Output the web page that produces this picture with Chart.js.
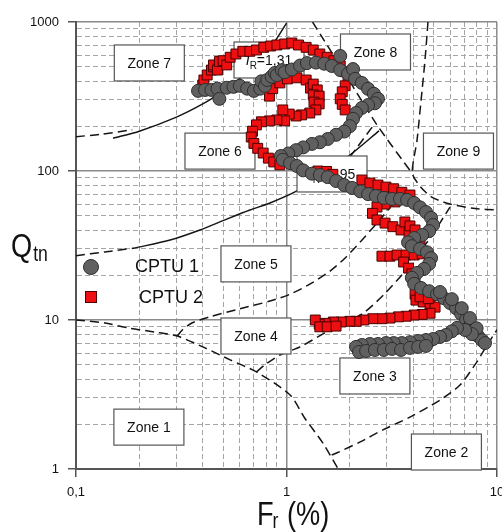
<!DOCTYPE html>
<html>
<head>
<meta charset="utf-8">
<title>CPTU SBT chart</title>
<script src="https://cdn.jsdelivr.net/npm/chart.js@4.4.1/dist/chart.umd.min.js"></script>
<style>
  html, body { margin: 0; padding: 0; background: #fff; }
  #wrap { position: relative; width: 502px; height: 532px; }
</style>
</head>
<body>
<div id="wrap"><canvas id="sbtChart"></canvas></div>
<script>
// CPTU 1 readings: [Fr (%), Qtn]
const cptu1 = [
    [0.38, 345], [0.41, 350], [0.44, 350], [0.47, 357], [0.48, 305], [0.52, 362], [0.56, 367],
    [0.60, 373], [0.65, 357], [0.70, 345], [0.75, 357], [0.76, 400], [0.79, 373], [0.81, 408],
    [0.85, 430], [0.88, 455], [0.90, 440], [0.95, 475], [0.98, 460], [1.06, 480], [1.16, 510],
    [1.25, 530], [1.38, 534], [1.51, 525], [1.64, 507], [1.80, 476], [1.80, 592], [1.96, 448],
    [2.07, 483], [2.12, 415], [2.28, 390], [2.44, 356], [2.60, 330], [2.72, 305],
    [2.63, 285], [2.44, 277], [2.28, 265], [2.14, 245], [2.07, 224], [2.00, 200], [1.88, 184],
    [1.72, 175], [1.57, 164], [1.44, 156], [1.32, 152], [1.20, 144], [1.11, 138], [1.02, 131],
    [0.94, 126], [0.96, 119], [1.04, 113], [1.12, 108], [1.20, 101], [1.32, 96], [1.44, 94],
    [1.57, 91], [1.72, 85.7], [1.88, 80.5], [2.05, 77], [2.24, 73], [2.44, 70], [2.66, 68],
    [2.90, 66], [3.17, 65], [3.46, 65], [3.74, 64], [4.04, 61], [4.31, 57], [4.60, 53],
    [4.86, 48.5], [4.97, 43.4], [4.76, 39.5], [4.41, 37.2], [4.04, 35.5], [3.78, 33.2],
    [3.94, 31.3], [4.31, 30], [4.65, 28.5], [4.86, 26], [4.76, 23.8], [4.50, 22], [4.17, 20.7],
    [3.94, 19.2], [4.04, 17.5], [4.36, 16.4], [4.76, 15.6], [5.19, 14.9], [5.60, 14.0],
    [5.98, 13.0], [6.39, 12.0], [6.75, 11.0], [7.13, 10.0], [7.44, 9.1], [7.77, 8.4],
    [8.13, 7.8], [8.49, 7.3], [8.77, 7.0], [5.36, 15.4], [6.1, 13.8], [6.8, 12.0],
    [7.44, 10.3], [8.0, 8.8],
    [7.6, 8.05], [7.05, 8.57], [6.46, 8.85], [6.1, 8.4], [5.72, 7.93], [5.36, 7.7], [4.97, 7.45],
    [4.60, 7.34], [4.22, 7.23], [3.86, 7.1], [3.53, 7.0], [3.23, 7.0], [2.97, 7.0], [2.72, 6.9],
    [2.49, 6.9], [2.28, 6.8], [2.14, 6.6], [2.21, 6.1], [2.39, 6.2], [2.63, 6.3], [2.90, 6.3],
    [3.17, 6.4], [3.50, 6.3], [3.86, 6.5], [4.22, 6.6], [4.60, 6.7]
];

// CPTU 2 readings: [Fr (%), Qtn]
const cptu2 = [
    [0.40, 378], [0.405, 408], [0.42, 441], [0.44, 476], [0.45, 500], [0.45, 515], [0.47, 476],
    [0.48, 543], [0.50, 550], [0.52, 515], [0.54, 580], [0.575, 610], [0.62, 636], [0.67, 636],
    [0.72, 649], [0.78, 676], [0.84, 690], [0.90, 701], [0.98, 712], [1.06, 723], [1.14, 701],
    [1.24, 676], [1.34, 649], [1.44, 610], [1.56, 580], [1.68, 550], [1.80, 507], [1.90, 464],
    [1.96, 415], [1.90, 373], [1.84, 340], [1.80, 305], [1.84, 280], [1.90, 257],
    [0.83, 318], [0.86, 357], [0.93, 390], [1.01, 415], [1.12, 422], [1.24, 408], [1.30, 360],
    [1.34, 383], [1.40, 350], [1.34, 324], [1.43, 318], [1.35, 290], [1.43, 282], [1.38, 257],
    [1.29, 245], [1.18, 238], [1.11, 234], [1.03, 241], [0.96, 257],
    [0.98, 217], [0.90, 220], [0.83, 217], [0.76, 214], [0.72, 204], [0.69, 185], [0.68, 169],
    [0.70, 153], [0.73, 142], [0.775, 132], [0.82, 122], [0.87, 115], [0.93, 110],
    [1.41, 100], [1.55, 99.4], [1.66, 95],
    [2.28, 87], [2.49, 83], [2.72, 80.5], [2.97, 78], [3.23, 76], [3.53, 72], [3.86, 69],
    [3.28, 62], [2.94, 60],
    [2.69, 57.3], [2.56, 52], [2.69, 46.9], [2.94, 44.7], [3.2, 42.3], [3.5, 40.2], [3.82, 38.2],
    [4.12, 36.6], [4.31, 34.4], [3.65, 45.5], [3.86, 42.8], [4.08, 40.2],
    [2.84, 26.8], [3.10, 26.8], [3.35, 27.3], [3.70, 27.3], [4.04, 27.3], [4.41, 27.8],
    [3.6, 24.5], [3.8, 22.3], [3.94, 20.4], [4.08, 18.5], [4.17, 16.7], [4.08, 14.9], [4.12, 13.6],
    [4.46, 13.2], [4.81, 12.8], [5.08, 12.2], [4.31, 14.3], [4.72, 13.9],
    [4.81, 11.1], [4.41, 10.9], [4.04, 10.8], [3.70, 10.6], [3.40, 10.5], [3.10, 10.3],
    [2.84, 10.2], [2.57, 10.2], [2.33, 10.0], [2.14, 9.8], [2.0, 9.8], [1.82, 9.7], [1.67, 9.7],
    [1.53, 9.5], [1.43, 9.4], [1.37, 10.0], [1.44, 9.0], [1.56, 9.0], [1.72, 9.1]
];

// zone boundaries: [Fr (%), Qtn]
const zone7LeftDash = [[0.1, 170], [0.13, 176], [0.185, 189]];
const ic131Curve = [[0.15, 166], [0.2, 185], [0.3, 230], [0.4, 282], [0.5, 344], [0.6, 418],
    [0.7, 509], [0.8, 624], [0.9, 776], [1.0, 984]];
const zone6LeftDash = [[0.1, 27], [0.137, 28.6], [0.19, 30.4]];
const zone6Curve = [[0.19, 30.4], [0.28, 34.4], [0.388, 40.2], [0.51, 47], [0.67, 54.7],
    [0.835, 61], [1.12, 73.5], [1.52, 98.5], [2.0, 128], [2.75, 186]];
const zone8Tick = [[2.0, 124], [2.6, 204]];
const zone8Diagonal = [[1.33, 1000], [1.90, 448], [2.69, 204], [3.94, 97]];
const zone9Boundary = [[4.70, 1000], [4.55, 556], [4.36, 300], [4.17, 161], [3.96, 97],
    [4.31, 79], [4.9, 66.7], [5.98, 60], [7.86, 56], [10, 54.7]];
const zone45Boundary = [[0.303, 7.8], [0.32, 8.57], [0.355, 9.55], [0.433, 10.5], [0.60, 11.9],
    [0.835, 13.4], [1.04, 14.9], [1.29, 17.4], [1.61, 21.3], [1.90, 26.1], [2.24, 33.4],
    [2.69, 44.7], [3.17, 59]];
const zone1Boundary = [[0.1, 10], [0.137, 9.55], [0.18, 8.8], [0.237, 8.3], [0.303, 7.8],
    [0.41, 6.5], [0.54, 5.4], [0.72, 4.48], [1.04, 3.14], [1.22, 2.2], [1.49, 1.49], [1.76, 1.0]];
const zone34Boundary = [[0.72, 4.48], [0.79, 5.0], [0.93, 5.82], [1.16, 6.6], [1.61, 8.57],
    [2.31, 11.1], [2.94, 15.1], [3.70, 21.7], [4.81, 35.5], [5.98, 57.3]];
const zone2Boundary = [[1.64, 1.24], [1.73, 1.28], [2.24, 1.52], [2.87, 1.83], [3.86, 2.23],
    [5.36, 2.9], [6.67, 3.66], [8.0, 5.2], [8.98, 6.8], [10, 8.6]];

// zone labels (centre of each box)
const zoneNames = ['Zone 1', 'Zone 2', 'Zone 3', 'Zone 4', 'Zone 5', 'Zone 6', 'Zone 7', 'Zone 8', 'Zone 9'];
const zoneFr = [0.222, 5.75, 2.63, 0.716, 0.716, 0.483, 0.223, 2.647, 6.56];
const zoneQtn = [1.91, 1.30, 4.21, 7.81, 23.8, 136, 531, 629, 136];
const irValues = ['1,31', '2,95'];
const irFr = [0.826, 1.645];
const irQtn = [556, 95.5];

// tick labels
const frTicks = [0.1, 1, 10];
const frTickLabels = ['0,1', '1', '10'];
const qtnTicks = [1, 10, 100, 1000];
const qtnTickLabels = ['1', '10', '100', '1000'];

const FONT = '"Liberation Sans", Arial, sans-serif';

function toXY(pairs) {
    return pairs.map(p => ({ x: p[0], y: p[1] }));
}

function isMajor(v) {
    const l = Math.log10(v);
    return Math.abs(l - Math.round(l)) < 1e-6;
}

// 1..9 in every decade, for the grid
function logGridValues(lo, hi) {
    const vals = [];
    for (let d = lo; d < hi * 0.999; d *= 10) {
        for (let m = 1; m < 10; m++) vals.push(+(d * m).toPrecision(6));
    }
    vals.push(hi);
    return vals;
}

function boundary(pairs, dashed) {
    return {
        label: '',
        data: toXY(pairs),
        showLine: true,
        borderColor: '#151515',
        borderWidth: 1.5,
        borderDash: dashed ? [9, 5] : [],
        pointRadius: 0,
        tension: 0.25,
        fill: false,
        order: 1
    };
}

function drawBox(ctx, cx, cy) {
    ctx.fillStyle = '#fff';
    ctx.strokeStyle = '#555';
    ctx.lineWidth = 1.2;
    ctx.fillRect(cx - 35, cy - 18, 70, 36);
    ctx.strokeRect(cx - 35, cy - 18, 70, 36);
}

function drawIrLabel(ctx, cx, cy, value) {
    const parts = [
        { t: 'I', f: 'italic 14px ' + FONT, dy: 0 },
        { t: 'R', f: '10px ' + FONT, dy: 4 },
        { t: '=' + value, f: '14px ' + FONT, dy: 0 }
    ];
    let w = 0;
    parts.forEach(p => { ctx.font = p.f; p.w = ctx.measureText(p.t).width; w += p.w; });
    let x = cx - w / 2;
    ctx.fillStyle = '#111';
    ctx.textAlign = 'left';
    ctx.textBaseline = 'alphabetic';
    parts.forEach(p => { ctx.font = p.f; ctx.fillText(p.t, x, cy + 5 + p.dy); x += p.w; });
}

// narrow-looking title text: squeeze horizontally
function narrowText(ctx, text, x, y, size) {
    ctx.save();
    ctx.translate(x, y);
    ctx.scale(0.8, 1);
    ctx.font = size + 'px ' + FONT;
    ctx.fillText(text, 0, 0);
    const w = ctx.measureText(text).width * 0.8;
    ctx.restore();
    return w;
}

// zone boxes sit above the boundary lines but below the points
const sbtDecor = {
    id: 'sbtDecor',
    afterDatasetDraw(chart, args) {
        if (args.index !== 2) return;
        const ctx = chart.ctx;
        const xs = chart.scales.x, ys = chart.scales.y;
        ctx.save();
        irValues.forEach((v, i) => {
            const cx = xs.getPixelForValue(irFr[i]), cy = ys.getPixelForValue(irQtn[i]);
            drawBox(ctx, cx, cy);
            drawIrLabel(ctx, cx, cy, v);
        });
        zoneNames.forEach((name, i) => {
            const cx = xs.getPixelForValue(zoneFr[i]), cy = ys.getPixelForValue(zoneQtn[i]);
            drawBox(ctx, cx, cy);
            ctx.fillStyle = '#111';
            ctx.font = '14px ' + FONT;
            ctx.textAlign = 'center';
            ctx.textBaseline = 'middle';
            ctx.fillText(name, cx, cy + 1);
        });
        ctx.restore();
    },
    afterDraw(chart) {
        const ctx = chart.ctx;
        const area = chart.chartArea;
        const ds = chart.data.datasets;
        ctx.save();

        // legend inside the plot
        const lx = area.left + 15;
        ctx.beginPath();
        ctx.arc(lx, 267, 7.5, 0, Math.PI * 2);
        ctx.fillStyle = ds[0].backgroundColor;
        ctx.fill();
        ctx.strokeStyle = ds[0].borderColor;
        ctx.lineWidth = 1;
        ctx.stroke();
        ctx.fillStyle = ds[1].backgroundColor;
        ctx.fillRect(lx - 5.5, 291.5, 11, 11);
        ctx.strokeStyle = ds[1].borderColor;
        ctx.strokeRect(lx - 5.5, 291.5, 11, 11);
        ctx.fillStyle = '#111';
        ctx.font = '18px ' + FONT;
        ctx.textAlign = 'left';
        ctx.textBaseline = 'middle';
        ctx.fillText(ds[0].label, lx + 44, 267);
        ctx.fillText(ds[1].label, lx + 48, 298);

        // axis titles with subscripts
        ctx.textBaseline = 'alphabetic';
        const qw = narrowText(ctx, 'Q', 11, 257, 34);
        narrowText(ctx, 'tn', 11 + qw + 1, 261, 22);

        const fw = narrowText(ctx, 'F', 257, 525, 34);
        narrowText(ctx, 'r', 257 + fw - 1, 528, 22);
        narrowText(ctx, '(%)', 287, 525, 34);
        ctx.restore();
    }
};

function tickLabel(values, labels) {
    return v => {
        const i = values.findIndex(t => Math.abs(t - v) < 1e-9);
        return i < 0 ? '' : labels[i];
    };
}

function axisStyle(ticks, labels, lo, hi, padding) {
    return {
        type: 'logarithmic',
        min: lo,
        max: hi,
        afterBuildTicks: axis => { axis.ticks = logGridValues(lo, hi).map(v => ({ value: v })); },
        ticks: {
            autoSkip: false,
            maxRotation: 0,
            padding: padding,
            color: '#111',
            font: { family: FONT, size: 13 },
            callback: tickLabel(ticks, labels)
        },
        grid: {
            color: c => (c.tick && isMajor(c.tick.value)) ? '#8a8a8a' : '#a5a5a5',
            lineWidth: c => (c.tick && isMajor(c.tick.value)) ? 1.5 : 1,
            tickColor: c => (c.tick && isMajor(c.tick.value)) ? '#555' : 'rgba(0,0,0,0)',
            tickLength: 8
        },
        border: {
            display: true,
            color: '#555',
            width: 2,
            dash: c => (c.tick && !isMajor(c.tick.value)) ? [5, 3] : []
        }
    };
}

document.addEventListener('DOMContentLoaded', function () {
    const xAxis = axisStyle(frTicks, frTickLabels, 0.1, 10, 8);
    xAxis.afterFit = scale => {
        scale.height = 63;
        scale.paddingLeft = 0;
        scale.paddingRight = 0;
    };
    const yAxis = axisStyle(qtnTicks, qtnTickLabels, 1, 1000, 9);
    yAxis.afterFit = scale => {
        scale.width = 76;
        scale.paddingTop = 0;
        scale.paddingBottom = 0;
    };

    const ctx = document.getElementById('sbtChart').getContext('2d');
    new Chart(ctx, {
        type: 'scatter',
        data: {
            datasets: [{
                label: 'CPTU 1',
                data: toXY(cptu1),
                pointStyle: 'circle',
                pointRadius: 6.5,
                backgroundColor: '#606060',
                borderColor: '#2e2e2e',
                borderWidth: 1,
                order: 0
            }, {
                label: 'CPTU 2',
                data: toXY(cptu2),
                pointStyle: 'rect',
                pointRadius: 7,
                backgroundColor: '#ee1010',
                borderColor: '#4a0000',
                borderWidth: 1,
                order: 0
            },
            boundary(ic131Curve, false),
            boundary(zone6Curve, false),
            boundary(zone7LeftDash, true),
            boundary(zone6LeftDash, true),
            boundary(zone8Tick, true),
            boundary(zone8Diagonal, true),
            boundary(zone9Boundary, true),
            boundary(zone45Boundary, true),
            boundary(zone1Boundary, true),
            boundary(zone34Boundary, true),
            boundary(zone2Boundary, true)]
        },
        options: {
            responsive: true,
            maintainAspectRatio: false,
            animation: false,
            layout: { padding: { top: 22, right: 5, left: 0, bottom: 0 }, autoPadding: false },
            plugins: {
                legend: { display: false },
                tooltip: { enabled: false }
            },
            scales: { x: xAxis, y: yAxis }
        },
        plugins: [sbtDecor]
    });
});
</script>
</body>
</html>
